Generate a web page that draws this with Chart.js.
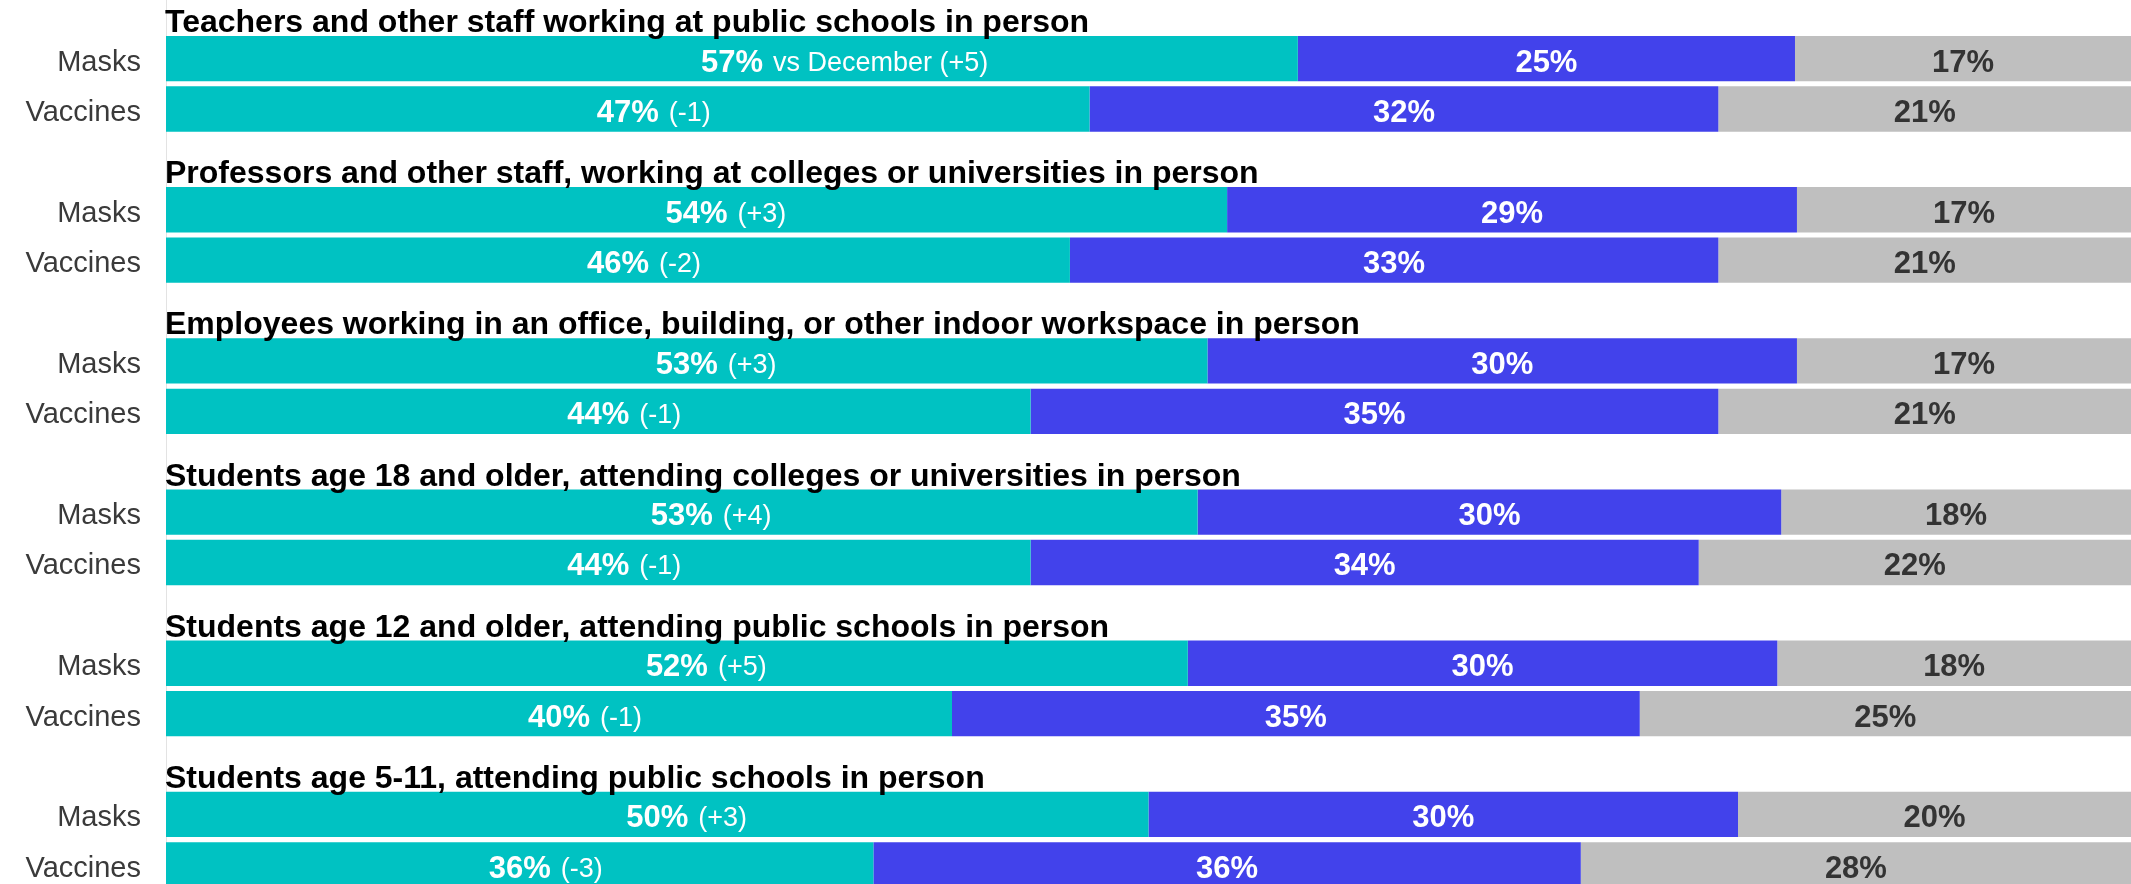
<!DOCTYPE html>
<html>
<head>
<meta charset="utf-8">
<script src="https://cdn.jsdelivr.net/npm/chart.js@4.4.1/dist/chart.umd.min.js"></script>
<style>
    html, body { margin: 0; padding: 0; background: #fff; overflow: hidden; }
    #wrap { position: absolute; left: 0; top: -17px; width: 2131px; height: 907px; }
</style>
</head>
<body>
<div id="wrap"><canvas id="pollChart"></canvas></div>
<script>
// group headings, one per audience
const groupTitles = [
    'Teachers and other staff working at public schools in person',
    'Professors and other staff, working at colleges or universities in person',
    'Employees working in an office, building, or other indoor workspace in person',
    'Students age 18 and older, attending colleges or universities in person',
    'Students age 12 and older, attending public schools in person',
    'Students age 5-11, attending public schools in person'
];
const rowNames = ['Masks', 'Vaccines'];

// bar lengths (Masks, Vaccines for each group in turn)
const supportBar = [57.6, 47, 54, 46, 53, 44, 52.5, 44, 52, 40, 50, 36];
const opposeBar = [25.3, 32, 29, 33, 30, 35, 29.7, 34, 30, 35, 30, 36];
const unsureBar = [17.1, 21, 17, 21, 17, 21, 17.8, 22, 18, 25, 20, 28];

// printed labels
const supportText = [57, 47, 54, 46, 53, 44, 53, 44, 52, 40, 50, 36];
const opposeText = [25, 32, 29, 33, 30, 35, 30, 34, 30, 35, 30, 36];
const unsureText = [17, 21, 17, 21, 17, 21, 18, 22, 18, 25, 20, 28];
const changeText = ['vs December (+5)', '(-1)', '(+3)', '(-2)', '(+3)', '(-1)',
    '(+4)', '(-1)', '(+5)', '(-1)', '(+3)', '(-3)'];

const FONT = "'Liberation Sans', Arial, Helvetica, sans-serif";

// each group gets an empty row (for its heading) followed by Masks and Vaccines
function spread(arr) {
    const out = [];
    for (let g = 0; g < groupTitles.length; g++) {
        out.push(null, arr[g * 2], arr[g * 2 + 1]);
    }
    return out;
}
const rowLabels = [];
groupTitles.forEach(function () {
    rowLabels.push('', rowNames[0], rowNames[1]);
});

const labelPlugin = {
    id: 'barLabels',
    afterDatasetsDraw: function (chart) {
        const ctx = chart.ctx;
        const texts = [spread(supportText), spread(opposeText), spread(unsureText)];
        const changes = spread(changeText);
        const colors = ['#ffffff', '#ffffff', '#333333'];
        ctx.save();
        chart.data.datasets.forEach(function (ds, di) {
            const meta = chart.getDatasetMeta(di);
            meta.data.forEach(function (bar, i) {
                if (ds.data[i] === null) return;
                const cx = (bar.x + bar.base) / 2;
                const label = texts[di][i] + '%';
                ctx.font = 'bold 31px ' + FONT;
                ctx.fillStyle = colors[di];
                ctx.textAlign = 'center';
                ctx.textBaseline = 'alphabetic';
                ctx.fillText(label, cx, bar.y + 13);
                if (di === 0 && changes[i]) {
                    const w = ctx.measureText(label).width;
                    ctx.font = '27px ' + FONT;
                    ctx.textAlign = 'left';
                    ctx.fillText(changes[i], cx + w / 2 + 10, bar.y + 12);
                }
            });
        });
        // group headings
        const y = chart.scales.y;
        ctx.font = 'bold 32px ' + FONT;
        ctx.fillStyle = '#000000';
        ctx.textAlign = 'left';
        ctx.textBaseline = 'alphabetic';
        groupTitles.forEach(function (t, g) {
            const py = y.getPixelForValue(g * 3 + 1) - 26.5;
            ctx.fillText(t, chart.chartArea.left - 1, py);
        });
        ctx.restore();
    }
};

const ctx = document.getElementById('pollChart').getContext('2d');
const pollChart = new Chart(ctx, {
    type: 'bar',
    data: {
        labels: rowLabels,
        datasets: [{
            label: 'Support',
            data: spread(supportBar),
            backgroundColor: '#00c2c2'
        }, {
            label: 'Oppose',
            data: spread(opposeBar),
            backgroundColor: '#4242eb'
        }, {
            label: 'Unsure',
            data: spread(unsureBar),
            backgroundColor: '#bfbfbf'
        }]
    },
    options: {
        indexAxis: 'y',
        responsive: true,
        maintainAspectRatio: false,
        animation: false,
        layout: { padding: 0 },
        datasets: {
            bar: {
                categoryPercentage: 1,
                barPercentage: 0.9,
                borderWidth: 0
            }
        },
        scales: {
            x: {
                display: false,
                stacked: true,
                min: 0,
                max: 100
            },
            y: {
                stacked: true,
                afterFit: function (scale) {
                    scale.width = 166;
                    scale.paddingTop = 0;
                    scale.paddingBottom = 0;
                },
                grid: {
                    display: false,
                    drawTicks: false
                },
                border: {
                    display: true,
                    color: '#e3e3e3',
                    width: 1
                },
                ticks: {
                    padding: 25,
                    labelOffset: 4,
                    color: '#3a3a3a',
                    font: { family: FONT, size: 29 }
                }
            }
        },
        plugins: {
            legend: { display: false },
            tooltip: { enabled: false }
        }
    },
    plugins: [labelPlugin]
});
</script>
</body>
</html>
